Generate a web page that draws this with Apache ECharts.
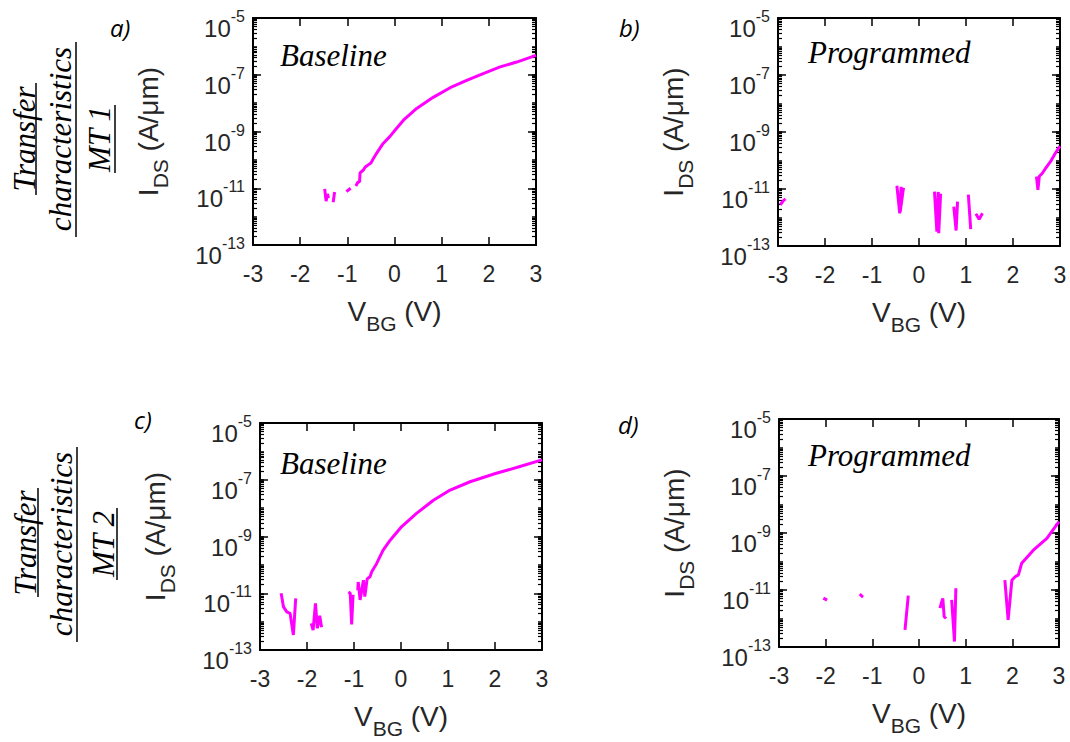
<!DOCTYPE html>
<html><head><meta charset="utf-8">
<script src="https://cdn.jsdelivr.net/npm/echarts@6/dist/echarts.min.js"></script>
<style>html,body{margin:0;padding:0;background:#fff}#c{width:1070px;height:742px}</style>
</head><body><div id="c"></div>
<script>
// ---- tick labels ----
const xTicks = [-3, -2, -1, 0, 1, 2, 3];
const yLabelExps = [-13, -11, -9, -7, -5];

// ---- panel a: MT1 baseline ----
const aV = [-1.48,-1.45,-1.42,-1.40,-1.35,-1.30,-1.27,-1.15,-1.02,-0.93,-0.88,-0.82,-0.78,-0.74,-0.73,-0.66,-0.62,-0.55,-0.50,-0.45,-0.38,-0.30,-0.24,-0.10,0.01,0.19,0.47,0.82,1.18,1.53,1.88,2.24,2.59,3.0];
const aI = [9.5e-12,3.5e-12,6.3e-12,4.5e-12,null,3.2e-12,7.4e-12,null,7.6e-12,1.0e-11,null,1.2e-11,1.6e-11,1.7e-11,3.5e-11,4.4e-11,5.6e-11,6.8e-11,7.8e-11,1.1e-10,1.7e-10,2.7e-10,3.8e-10,6.6e-10,1.1e-9,2.5e-9,6.5e-9,1.6e-8,3.5e-8,6.3e-8,1.1e-7,1.9e-7,2.8e-7,4.8e-7];

// ---- panel b: MT1 programmed ----
const bV = [-2.95,-2.88,-2.84,-1.00,-0.47,-0.41,-0.38,-0.40,-0.33,0.00,0.33,0.38,0.41,0.42,0.46,0.60,0.74,0.79,0.82,0.95,1.05,1.10,1.16,1.21,1.28,1.35,2.00,2.50,2.53,2.56,2.62,2.70,2.80,2.90,3.0];
const bI = [2.8e-12,4.0e-12,4.5e-12,null,1.3e-11,1.4e-12,1.2e-11,1.6e-12,1.1e-11,null,8.1e-12,3.2e-13,7.9e-12,2.8e-13,6.8e-12,null,2.4e-12,3.5e-13,3.6e-12,null,6.3e-12,3.9e-13,null,1.35e-12,8.7e-13,1.4e-12,null,2.75e-11,9.3e-12,2.8e-11,3.5e-11,5.5e-11,9.3e-11,1.8e-10,3.2e-10];

// ---- panel c: MT2 baseline ----
const cV = [-2.55,-2.50,-2.43,-2.36,-2.29,-2.24,-2.05,-1.91,-1.87,-1.82,-1.78,-1.73,-1.69,-1.40,-1.12,-1.08,-1.05,-1.02,-0.97,-0.92,-0.91,-0.87,-0.80,-0.77,-0.72,-0.66,-0.62,-0.52,-0.38,-0.23,0.01,0.33,0.69,1.02,1.47,2.01,2.46,3.0];
const cI = [1.0e-11,3.3e-12,2.2e-12,1.95e-12,3.4e-13,6.6e-12,null,8.7e-13,5.0e-13,4.4e-12,5.8e-13,1.6e-12,6.3e-13,null,1.1e-11,1.0e-11,7.9e-13,8.9e-12,null,1.26e-11,2.5e-11,5.8e-12,2.9e-11,7.6e-12,3.2e-11,3.8e-11,5.8e-11,1.1e-10,3.3e-10,7.4e-10,2.2e-9,6.5e-9,1.9e-8,4.1e-8,8.5e-8,1.66e-7,2.7e-7,5.0e-7];

// ---- panel d: MT2 programmed ----
const dV = [-2.05,-1.97,-1.60,-1.27,-1.20,-0.80,-0.30,-0.23,0.10,0.45,0.48,0.51,0.54,0.58,0.64,0.70,0.76,0.79,1.30,1.84,1.91,1.99,2.06,2.13,2.20,2.45,2.74,3.0];
const dI = [5.2e-12,4.4e-12,null,7.1e-12,5.6e-12,null,4.0e-13,6.3e-12,null,2.3e-12,3.5e-12,5.1e-12,1.15e-12,1.0e-12,null,4.5e-12,1.55e-13,1.15e-11,null,2.2e-11,8.9e-13,2.2e-11,2.9e-11,3.4e-11,8.7e-11,2.5e-10,6.5e-10,2.5e-9];

const panels = [
  {v: aV, i: aI, grid: {left: 253, top: 18, width: 283, height: 227}},
  {v: bV, i: bI, grid: {left: 778, top: 18, width: 282, height: 228}},
  {v: cV, i: cI, grid: {left: 260, top: 423, width: 282, height: 227}},
  {v: dV, i: dI, grid: {left: 779, top: 419, width: 280, height: 228}}
];

const SANS = 'Liberation Sans';
const SERIF = 'Liberation Serif';
const TXT = '#262626';
const AL = () => ({show: true, onZero: false, lineStyle: {color: '#000', width: 2}});
const MAJ = () => ({show: true, inside: true, length: 8, lineStyle: {color: '#000', width: 1.5}});
const MIN = () => ({show: true, inside: true, length: 4, lineStyle: {color: '#000', width: 1.5}});
const MINOR = () => ({show: true, splitNumber: 9, length: 4, lineStyle: {color: '#000', width: 1.2}});
const subRich = (big, small) => ({
  v: {fontSize: big, fontFamily: SANS, color: TXT, lineHeight: 30, verticalAlign: 'top'},
  sub: {fontSize: small, fontFamily: SANS, color: TXT, padding: [16, 0, 0, 0], verticalAlign: 'bottom'}
});
const expOf = v => Math.round(Math.log10(v));
const yMin = Math.pow(10, yLabelExps[0]);
const yMax = Math.pow(10, yLabelExps[yLabelExps.length - 1]);

const grids = [], xAxes = [], yAxes = [], series = [];
panels.forEach((p, k) => {
  grids.push(Object.assign({}, p.grid));
  xAxes.push({
    gridIndex: k, type: 'value', position: 'bottom', min: xTicks[0], max: xTicks[xTicks.length - 1], interval: 1,
    axisLine: AL(), splitLine: {show: false}, axisTick: MAJ(),
    axisLabel: {show: true, margin: 17, fontSize: 23, fontFamily: SANS, color: TXT},
    name: '{v|V}{sub|BG}{v| (V)}', nameLocation: 'middle', nameGap: 52,
    nameTextStyle: {rich: subRich(28, 21)}
  });
  xAxes.push({
    gridIndex: k, type: 'value', position: 'top', min: xTicks[0], max: xTicks[xTicks.length - 1], interval: 1,
    axisLine: AL(), splitLine: {show: false}, axisTick: MAJ(), axisLabel: {show: false}
  });
  yAxes.push({
    gridIndex: k, type: 'log', logBase: 10, min: yMin, max: yMax, interval: 2,
    position: 'left', axisLine: AL(), axisTick: MAJ(), splitLine: {show: false},
    axisLabel: {
      show: true, margin: 8, padding: [13, 0, 0, 0],
      formatter: v => '{b|10}{s|' + expOf(v) + '}',
      rich: {
        b: {fontSize: 24, fontFamily: SANS, color: TXT, lineHeight: 32, verticalAlign: 'bottom'},
        s: {fontSize: 16, fontFamily: SANS, color: TXT, lineHeight: 16, verticalAlign: 'top'}
      }
    },
    name: '{v|I}{sub|DS}{v| (A/\u03bcm)}', nameLocation: 'middle', nameRotate: 90, nameGap: 82,
    nameTextStyle: {rich: subRich(28, 21)}
  });
  yAxes.push({
    gridIndex: k, type: 'log', min: yMin, max: yMax, position: 'left',
    axisLine: {show: false, onZero: false}, axisTick: MIN(), minorTick: MINOR(),
    splitLine: {show: false}, minorSplitLine: {show: false}, axisLabel: {show: false}
  });
  yAxes.push({
    gridIndex: k, type: 'log', min: yMin, max: yMax, interval: 2, position: 'right',
    axisLine: AL(), axisTick: MAJ(), splitLine: {show: false}, axisLabel: {show: false}
  });
  yAxes.push({
    gridIndex: k, type: 'log', min: yMin, max: yMax, position: 'right',
    axisLine: {show: false, onZero: false}, axisTick: MIN(), minorTick: MINOR(),
    splitLine: {show: false}, minorSplitLine: {show: false}, axisLabel: {show: false}
  });
  series.push({
    type: 'line', xAxisIndex: 2 * k, yAxisIndex: 4 * k,
    data: p.v.map((x, j) => [x, p.i[j] == null ? '-' : p.i[j]]),
    showSymbol: false, lineStyle: {color: '#ff00ff', width: 3}
  });
});

const T = (x, y, text, font) => ({
  type: 'text', x: x, y: y,
  style: {text: text, font: font, fill: '#000', align: 'left', verticalAlign: 'middle'}
});
// underline bars (thin filled rectangles)
const U = (x, y1, y2) => ({type: 'rect', shape: {x: x - 0.75, y: y1, width: 1.5, height: y2 - y1}, style: {fill: '#000'}});
const R = (x, y, text) => ({type: 'text', x: x, y: y, rotation: Math.PI / 2,
  style: {text: text, font: 'italic 31px "' + SERIF + '"', fill: '#000', align: 'center', verticalAlign: 'middle'}});

const LETTER = 'italic 24px "Open Sans"';
const NOTE = 'italic 31px "' + SERIF + '"';
const graphic = [
  T(110, 27, 'a)', LETTER), T(619, 27, 'b)', LETTER), T(134, 419, 'c)', LETTER), T(618, 424, 'd)', LETTER),
  T(280, 55, 'Baseline', NOTE), T(808, 52, 'Programmed', NOTE),
  T(280, 463, 'Baseline', NOTE), T(808, 455, 'Programmed', NOTE),
  R(24, 139, 'Transfer'), R(60, 139, 'characteristics'), R(99, 139, 'MT 1'),
  U(36, 83, 195), U(76, 42, 237), U(115, 105, 173),
  R(25, 543, 'Transfer'), R(61.5, 544, 'characteristics'), R(103, 544, 'MT 2'),
  U(38, 488, 597), U(77, 447, 642), U(117, 508, 580)
];

const chart = echarts.init(document.getElementById('c'), null, {renderer: 'svg'});
chart.setOption({
  animation: false, backgroundColor: '#fff',
  grid: grids, xAxis: xAxes, yAxis: yAxes, series: series, graphic: graphic
});
</script></body></html>
